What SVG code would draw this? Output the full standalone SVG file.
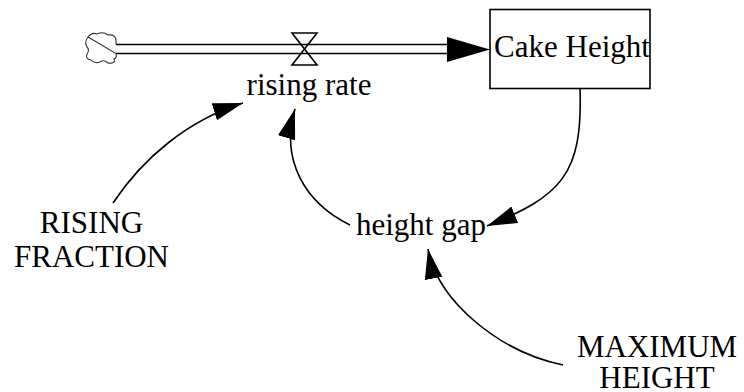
<svg xmlns="http://www.w3.org/2000/svg" width="744" height="392" viewBox="0 0 744 392">
<style>
  text { font-family: "Liberation Serif", "Times New Roman", serif; font-size: 31px; fill: #000; text-anchor: middle; }
  .pipe { stroke: #000; stroke-width: 1.6; fill: none; }
  .link { stroke: #000; stroke-width: 1.6; fill: none; marker-end: url(#arr); }
</style>
<defs>
  <marker id="arr" markerUnits="userSpaceOnUse" markerWidth="30" markerHeight="20" viewBox="0 0 27 16" refX="27" refY="8" orient="auto">
    <path d="M0,0 L27,8 L0,16 Z" fill="#000"/>
  </marker>
</defs>
<rect width="744" height="392" fill="#fff"/>

<g id="flow-rising-rate">
  <line class="pipe" x1="116" y1="44.5" x2="448" y2="44.5"/>
  <line class="pipe" x1="116" y1="53.5" x2="448" y2="53.5"/>
  <polygon points="447,37 490,49.5 447,62" fill="#000"/>
  <path d="M292,33 L317,33 L292,65 L317,65 Z" fill="none" stroke="#000" stroke-width="1.6"/>
</g>

<g id="cloud">
  <path d="M88,37 Q92,32 97,34 Q103,31 108,35 Q116,34 116,41 L116,44.5 M116,53.5 Q117,58 114,59 Q116,64 108,63 Q104,59 100,62 Q94,64 91,60 Q85,59 87,54 Q90,50 87,47 Q84,42 88,37 Z" fill="none" stroke="#333" stroke-width="1.1"/>
</g>

<g id="rising-rate">
  <text x="309" y="95">rising rate</text>
</g>

<g id="cake-height">
  <rect x="490" y="9.5" width="160" height="79" fill="none" stroke="#000" stroke-width="1.6"/>
  <text x="572" y="57">Cake Height</text>
</g>

<g id="height-gap">
  <text x="421" y="235">height gap</text>
</g>

<g id="rising-fraction">
  <text x="91.5" y="233">RISING</text>
  <text x="91.5" y="267">FRACTION</text>
</g>

<g id="maximum-height">
  <text x="657" y="357">MAXIMUM</text>
  <text x="657" y="388">HEIGHT</text>
</g>

<g id="connectors">
  <path class="link" d="M113,203 C143,158 188,120 243,103"/>
  <path class="link" d="M350,225 C305,203 280,160 295,109"/>
  <path class="link" d="M580,88 C583,175 561,196 487,226"/>
  <path class="link" d="M563,365 C500,352 438,302 428,249"/>
</g>
</svg>
